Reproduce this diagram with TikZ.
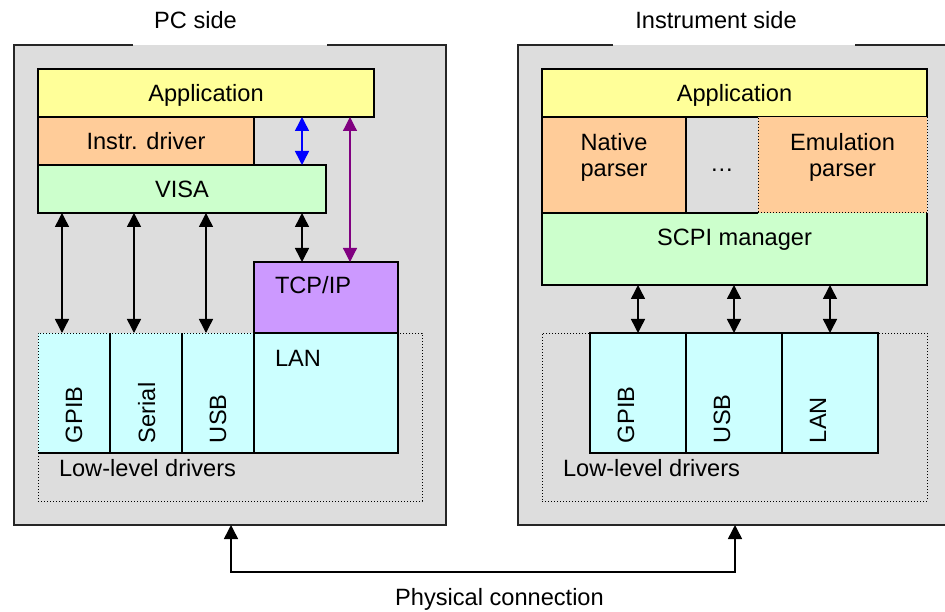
\documentclass[tikz,border=0pt]{standalone}
\usepackage{fontspec}
\setmainfont{Liberation Sans}
\usetikzlibrary{arrows.meta,calc}
\definecolor{bggray}{RGB}{221,221,221}
\definecolor{appY}{RGB}{255,255,153}
\definecolor{drvO}{RGB}{255,204,153}
\definecolor{visaG}{RGB}{204,255,204}
\definecolor{tcpP}{RGB}{204,153,255}
\definecolor{cellC}{RGB}{204,255,255}
\definecolor{arrPur}{RGB}{128,0,128}
\definecolor{arrBlue}{RGB}{0,0,255}
\newcommand\dfont{\fontsize{23.6}{27}\selectfont}
\begin{document}
\begin{tikzpicture}[x=1pt,y=-1pt, font=\dfont,
  >={Triangle[length=14pt,width=14pt]},
  box/.style={draw=black, line width=1.5pt, inner sep=0pt, outer sep=0pt, anchor=north west, text height=17pt, text depth=0pt},
  plainbox/.style={inner sep=0pt, outer sep=0pt, anchor=north west},
  lbl/.style={inner sep=0pt, outer sep=0pt, anchor=base},
  lbll/.style={inner sep=0pt, outer sep=0pt, anchor=base west},
  vlbl/.style={inner sep=0pt, outer sep=0pt, anchor=base west, rotate=90},
  outerline/.style={draw=black!85, line width=2pt},
  solidline/.style={draw=black, line width=1.5pt},
  grp/.style={draw=black, line width=1pt, dash pattern=on 1pt off 2pt},
  dbl/.style={line width=1.5pt, <->},
]
\useasboundingbox (0,0) rectangle (945,612);
\clip (0,0) rectangle (945,612);

% ---------- PC side ----------
\node[plainbox, fill=bggray, minimum width=432pt, minimum height=480pt] (pc) at (14,45) {};
\draw[outerline] (133,45) -- (pc.north west) -- (pc.south west) -- (pc.south east) -- (pc.north east) -- (327,45);
\node[lbl] (pctitle) at (195.5,29) {PC side};

\node[box, fill=appY, minimum width=336pt, minimum height=48pt] (papp) at (38,69) {Application};
\node[box, fill=drvO, minimum width=216pt, minimum height=48pt] (pdrv) at (38,117) {Instr. driver};
\node[box, fill=visaG, minimum width=288pt, minimum height=48pt] (pvisa) at (38,165) {VISA};

\node[plainbox, fill=cellC, minimum width=72pt, minimum height=120pt] (pgpib) at (38,333) {};
\node[plainbox, fill=cellC, minimum width=72pt, minimum height=120pt] (pser) at (110,333) {};
\node[plainbox, fill=cellC, minimum width=72pt, minimum height=120pt] (pusb) at (182,333) {};
\node[plainbox, fill=cellC, minimum width=144pt, minimum height=120pt] (plan) at (254,333) {};
\node[plainbox, grp, minimum width=384pt, minimum height=168pt] (pgrp) at (38,333) {};
\draw[solidline] (pgpib.south west) -- (plan.south east) -- (plan.north east);
\draw[solidline] (pgpib.north east) -- (pgpib.south east)
                 (pser.north east) -- (pser.south east)
                 (pusb.north east) -- (pusb.south east);
\node[box, fill=tcpP, minimum width=144pt, minimum height=71pt] (ptcp) at (254,262) {};

\node[lbll] (ptcpl) at (275,294) {TCP/IP};
\node[lbll] (planl) at (275,366) {LAN};
\node[lbll] (plow) at (59,476) {Low-level drivers};
\node[vlbl] (pgpibl) at (82,443) {GPIB};
\node[vlbl] (pserl) at (155,443) {Serial};
\node[vlbl] (pusbl) at (226,443) {USB};

\coordinate (xa) at (62,0);
\coordinate (xb) at (134,0);
\coordinate (xc) at (206,0);
\coordinate (xd) at (302,0);
\coordinate (xe) at (350,0);
\draw[dbl] (pvisa.south -| xa) -- (pgpib.north -| xa);
\draw[dbl] (pvisa.south -| xb) -- (pser.north -| xb);
\draw[dbl] (pvisa.south -| xc) -- (pusb.north -| xc);
\draw[dbl] (pvisa.south -| xd) -- (ptcp.north -| xd);
\draw[dbl, arrBlue] (papp.south -| xd) -- (pvisa.north -| xd);
\draw[dbl, arrPur, line width=1.2pt] (papp.south -| xe) -- (ptcp.north -| xe);

% ---------- Instrument side ----------
\node[plainbox, fill=bggray, minimum width=450pt, minimum height=480pt] (ins) at (518,45) {};
\draw[outerline] (613,45) -- (ins.north west) -- (ins.south west) -- (ins.south east) -- (ins.north east) -- (855,45);
\node[lbl] (institle) at (716,29) {Instrument side};

\node[box, fill=appY, minimum width=385pt, minimum height=48pt] (iapp) at (542,69) {Application};
\node[plainbox, fill=visaG, minimum width=385pt, minimum height=72pt] (iscpi) at (542,213) {};
\node[box, fill=drvO, minimum width=144pt, minimum height=96pt] (inat) at (542,117) {};
\node[plainbox, grp, fill=drvO, minimum width=169pt, minimum height=96pt] (iemu) at (758,117) {};
\draw[solidline] (iemu.south west) -- (iscpi.north west) -- (iscpi.south west) -- (iscpi.south east) -- (iscpi.north east);

\node[lbl] (inat1) at (614,150.5) {Native};
\node[lbl] (inat2) at (614,177) {parser};
\node[lbl] (iemu1) at (842.5,150.5) {Emulation};
\node[lbl] (iemu2) at (842.5,177) {parser};
\node[lbl] (idots) at (722,172) {…};
\node[lbl] (iscpil) at (734.5,246) {SCPI manager};

\node[plainbox, grp, minimum width=385pt, minimum height=168pt] (igrp) at (542,333) {};
\node[box, fill=cellC, minimum width=96pt, minimum height=120pt] (igpib) at (590,333) {};
\node[box, fill=cellC, minimum width=96pt, minimum height=120pt] (iusb) at (686,333) {};
\node[box, fill=cellC, minimum width=96pt, minimum height=120pt] (ilan) at (782,333) {};
\node[vlbl] (igpibl) at (634,443) {GPIB};
\node[vlbl] (iusbl) at (730,443) {USB};
\node[vlbl] (ilanl) at (826,443) {LAN};
\node[lbll] (ilow) at (563,476) {Low-level drivers};

\draw[dbl] (iscpi.south -| igpib.north) -- (igpib.north);
\draw[dbl] (iscpi.south -| iusb.north) -- (iusb.north);
\draw[dbl] (iscpi.south -| ilan.north) -- (ilan.north);

% ---------- physical connection ----------
\coordinate (pha) at (231,0);
\coordinate (phb) at (735,0);
\draw[dbl] (pc.south -| pha) -- ++(0,47) -| (ins.south -| phb);
\node[lbl] (phys) at (499.5,605) {Physical connection};
\end{tikzpicture}
\end{document}
